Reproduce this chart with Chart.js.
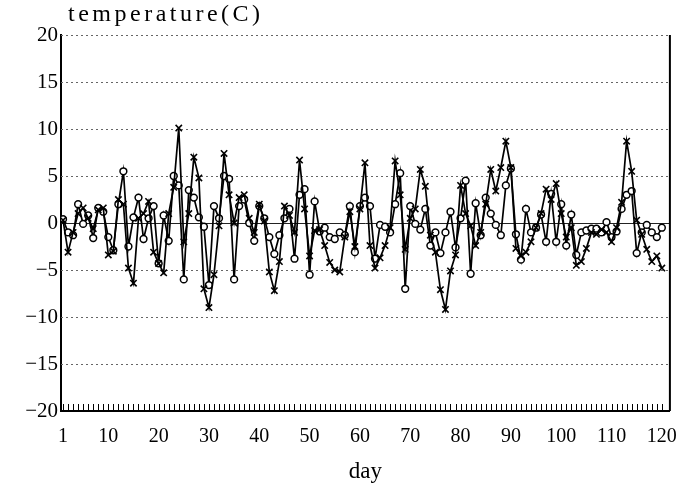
<!DOCTYPE html>
<html>
<head>
<meta charset="utf-8">
<script src="https://cdn.jsdelivr.net/npm/chart.js@4.4.1/dist/chart.umd.min.js"></script>
<style>
    html, body { margin: 0; padding: 0; background: #fff; }
    #wrap { width: 676px; height: 488px; position: relative; }
</style>
</head>
<body>
<div id="wrap"><canvas id="temp-chart"></canvas></div>
<script>
const days = Array.from({ length: 120 }, (_, i) => i + 1);

// open-marker series
const seriesCircle = [
    0.4, -1.0, -1.3, 2.0, -0.1, 0.8, -1.6, 1.6, 1.2, -1.5,
    -2.9, 2.0, 5.5, -2.5, 0.6, 2.7, -1.7, 0.5, 1.8, -4.3,
    0.8, -1.9, 5.0, 4.0, -6.0, 3.5, 2.7, 0.6, -0.4, -6.6,
    1.8, 0.5, 5.0, 4.7, -6.0, 1.8, 2.5, 0.0, -1.9, 1.8,
    0.5, -1.5, -3.3, -1.3, 0.5, 1.5, -3.8, 3.0, 3.6, -5.5,
    2.3, -0.9, -0.5, -1.5, -1.7, -1.0, -1.3, 1.8, -3.1, 1.8,
    2.7, 1.8, -3.8, -0.2, -0.4, -1.0, 2.0, 5.3, -7.0, 1.8,
    -0.1, -0.7, 1.5, -2.4, -1.0, -3.2, -1.0, 1.2, -2.6, 0.5,
    4.5, -5.4, 2.1, -1.3, 2.7, 1.0, -0.2, -1.3, 4.0, 5.8,
    -1.2, -3.9, 1.5, -1.0, -0.5, 0.9, -2.0, 3.1, -2.0, 2.0,
    -2.4, 0.9, -3.4, -1.0, -0.8, -0.6, -0.6, -1.0, 0.1, -1.5,
    -0.9, 1.5, 3.0, 3.4, -3.2, -1.0, -0.2, -1.0, -1.5, -0.5,
];

// cross-marker series
const seriesCross = [
    0.3, -3.1, -1.0, 1.0, 1.6, 0.5, -0.6, 1.4, 1.6, -3.4,
    -3.0, 2.5, 2.0, -4.8, -6.4, 0.5, 1.0, 2.3, -3.1, -4.3,
    -5.3, 1.0, 3.8, 10.1, -2.0, 1.0, 7.0, 4.8, -7.0, -9.0,
    -5.5, -0.3, 7.4, 3.0, 0.0, 2.7, 3.0, 0.5, -1.0, 2.0,
    0.2, -5.2, -7.2, -4.1, 1.8, 0.8, -1.0, 6.7, 1.5, -3.5,
    -0.8, -0.7, -2.4, -4.2, -5.0, -5.2, -1.5, 1.2, -2.5, 1.5,
    6.4, -2.4, -4.8, -3.7, -2.4, -0.5, 6.6, 3.0, -2.8, 0.5,
    1.5, 5.7, 3.9, -1.3, -3.1, -7.1, -9.2, -5.1, -3.4, 4.0,
    1.0, -0.3, -2.4, -1.0, 2.0, 5.7, 3.4, 5.9, 8.7, 5.9,
    -2.7, -3.5, -3.1, -2.0, -0.5, 1.0, 3.6, 2.5, 4.2, 1.0,
    -1.5, -0.5, -4.5, -4.1, -2.7, -1.0, -1.2, -0.7, -1.0, -2.0,
    -0.5, 2.2, 8.7, 5.5, 0.3, -1.2, -2.8, -4.1, -3.5, -4.8,
];

const xTickLabels = [1, 10, 20, 30, 40, 50, 60, 70, 80, 90, 100, 110, 120];
const yTickLabels = [-20, -15, -10, -5, 0, 5, 10, 15, 20];

const serif = '"Liberation Serif", "DejaVu Serif", serif';
Chart.defaults.font.family = serif;
Chart.defaults.color = '#000';

// dotted grid, zero line, day comb along the bottom, right frame, and the y title
const framePlugin = {
    id: 'frame',
    beforeDatasetsDraw(chart) {
        const { ctx, chartArea: a, scales: { x, y } } = chart;
        ctx.save();
        ctx.lineWidth = 1;
        ctx.strokeStyle = '#666';
        ctx.setLineDash([2, 3]);
        ctx.beginPath();
        for (const v of yTickLabels) {
            if (v === 0 || v === -20) continue;
            const py = Math.round(y.getPixelForValue(v)) + 0.5;
            ctx.moveTo(a.left, py);
            ctx.lineTo(a.right, py);
        }
        ctx.stroke();
        ctx.setLineDash([]);

        ctx.strokeStyle = '#222';
        const y0 = Math.round(y.getPixelForValue(0)) + 0.5;
        ctx.beginPath();
        ctx.moveTo(a.left, y0);
        ctx.lineTo(a.right, y0);
        ctx.stroke();

        ctx.strokeStyle = '#000';
        ctx.beginPath();
        for (const d of days) {
            const px = Math.round(x.getPixelForValue(d)) + 0.5;
            ctx.moveTo(px, a.bottom);
            ctx.lineTo(px, a.bottom - 7);
        }
        ctx.stroke();

        ctx.lineWidth = 2;
        ctx.beginPath();
        ctx.moveTo(a.right, a.top);
        ctx.lineTo(a.right, a.bottom);
        ctx.stroke();
        ctx.restore();
    },
    afterDraw(chart) {
        const { ctx, chartArea: a } = chart;
        ctx.save();
        ctx.font = '24px ' + serif;
        ctx.letterSpacing = '3.5px';
        ctx.fillStyle = '#000';
        ctx.textBaseline = 'middle';
        ctx.fillText('temperature(C)', a.left + 7, 15);
        ctx.restore();
    },
};

function toPoints(values) {
    return days.map((d, i) => ({ x: d, y: values[i] }));
}

function renderChart() {
    const ctx = document.getElementById('temp-chart').getContext('2d');
    new Chart(ctx, {
        type: 'line',
        data: {
            datasets: [
                {
                    label: 'A',
                    data: toPoints(seriesCross),
                    borderColor: '#000',
                    borderWidth: 1.7,
                    pointStyle: 'crossRot',
                    pointRadius: 4.5,
                    pointBorderWidth: 1.6,
                    pointBorderColor: '#000',
                    tension: 0,
                },
                {
                    label: 'B',
                    data: toPoints(seriesCircle),
                    borderColor: '#000',
                    borderWidth: 1.7,
                    pointStyle: 'circle',
                    pointRadius: 3.4,
                    pointBorderWidth: 1.5,
                    pointBorderColor: '#000',
                    pointBackgroundColor: '#fff',
                    tension: 0,
                },
            ],
        },
        options: {
            responsive: true,
            maintainAspectRatio: false,
            animation: false,
            layout: { padding: { top: 35, right: 6, left: 0, bottom: 0 } },
            plugins: {
                legend: { display: false },
                tooltip: { enabled: false },
            },
            scales: {
                x: {
                    type: 'linear',
                    min: 0.6,
                    max: 121.6,
                    afterBuildTicks: (s) => { s.ticks = xTickLabels.map(v => ({ value: v })); },
                    afterFit: (s) => { s.height = 77; s.paddingLeft = 0; s.paddingRight = 0; },
                    grid: { drawOnChartArea: false, drawTicks: false },
                    border: { color: '#000', width: 2 },
                    ticks: { font: { size: 20 }, padding: 14, maxRotation: 0, autoSkip: false },
                    title: { display: true, text: 'day', font: { size: 23 }, padding: { top: 4, bottom: 2 } },
                },
                y: {
                    min: -20,
                    max: 20,
                    afterBuildTicks: (s) => { s.ticks = yTickLabels.map(v => ({ value: v })); },
                    afterFit: (s) => { s.width = 61; },
                    grid: { drawOnChartArea: false, drawTicks: false },
                    border: { color: '#000', width: 2 },
                    ticks: {
                        font: { size: 21 },
                        padding: 3,
                        callback: (v) => (v < 0 ? '\u2212' + (-v) : String(v)),
                    },
                },
            },
        },
        plugins: [framePlugin],
    });
}

document.addEventListener('DOMContentLoaded', renderChart);
</script>
</body>
</html>
